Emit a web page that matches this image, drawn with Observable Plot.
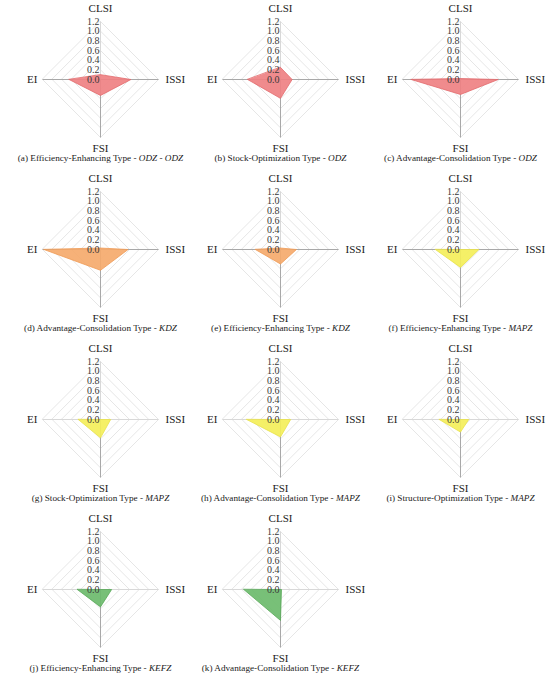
<!DOCTYPE html>
<html>
<head>
<meta charset="utf-8">
<script src="https://cdn.jsdelivr.net/npm/d3@7"></script>
<script src="https://cdn.jsdelivr.net/npm/@observablehq/plot@0.6"></script>
<style>
  html, body { margin: 0; padding: 0; background: #fff; }
  #chart { width: 550px; height: 692px; }
  #chart svg, #chart svg text { font-family: "Liberation Serif", "DejaVu Serif", serif !important; }
</style>
</head>
<body>
<div id="chart"></div>
<script>
// ---- Data ----
const axisNames = ["CLSI", "ISSI", "FSI", "EI"];
const panelLetters = ["a", "b", "c", "d", "e", "f", "g", "h", "i", "j", "k"];
const panelTypes = [
  "Efficiency-Enhancing Type", "Stock-Optimization Type", "Advantage-Consolidation Type",
  "Advantage-Consolidation Type", "Efficiency-Enhancing Type", "Efficiency-Enhancing Type",
  "Stock-Optimization Type", "Advantage-Consolidation Type", "Structure-Optimization Type",
  "Efficiency-Enhancing Type", "Advantage-Consolidation Type"
];
const panelZones = ["ODZ - ODZ", "ODZ", "ODZ", "KDZ", "KDZ", "MAPZ", "MAPZ", "MAPZ", "MAPZ", "KEFZ", "KEFZ"];
const CLSI = [0.10, 0.25, 0.02, 0.03, 0.03, 0.00, 0.00, 0.00, 0.00, 0.00, 0.00];
const ISSI = [0.63, 0.24, 0.78, 0.57, 0.33, 0.38, 0.21, 0.21, 0.17, 0.23, 0.02];
const FSI  = [0.33, 0.39, 0.31, 0.43, 0.30, 0.37, 0.38, 0.36, 0.26, 0.36, 0.64];
const EI   = [0.65, 0.68, 1.02, 1.17, 0.52, 0.52, 0.46, 0.70, 0.44, 0.48, 0.76];
const tickValues = [0, 0.2, 0.4, 0.6, 0.8, 1.0, 1.2];
const zoneKeys = ["ODZ", "KDZ", "MAPZ", "KEFZ"];
const zoneFill = ["#ef8183", "#f5aa6c", "#f4ef5a", "#6cbb6c"];
const zoneStroke = ["#e26a6c", "#ef9a55", "#e8e24a", "#58a858"];

// ---- Layout helpers ----
const W = 550, H = 692;
const rMax = 1.2;
const k = 58 / rMax;          // px per data unit
const dirs = [[0, 1], [1, 0], [0, -1], [-1, 0]];
const values = [CLSI, ISSI, FSI, EI];
function center(i) {
  const r = Math.floor(i / 3), c = i % 3;
  return [(100 + 180 * c) / k, -(79 + 170 * r) / k];
}
function zoneIndex(i) {
  return zoneKeys.indexOf(panelZones[i].split(" ")[0]);
}
const panels = d3.range(panelLetters.length);

// grid rings (diamonds)
const gridData = [];
panels.forEach(i => {
  const [cx, cy] = center(i);
  tickValues.filter(t => t > 0).forEach(t => {
    dirs.forEach(([dx, dy]) => gridData.push({ ring: i + "-" + t, x: cx + dx * t, y: cy + dy * t }));
  });
});

// axis spokes
const spokeData = [];
panels.forEach(i => {
  const [cx, cy] = center(i);
  dirs.forEach(([dx, dy], j) => spokeData.push({
    strong: j === 2 || (i < 6 && j !== 0),
    x1: cx, y1: cy, x2: cx + dx * rMax, y2: cy + dy * rMax
  }));
});

// tick labels
const tickData = [];
panels.forEach(i => {
  const [cx, cy] = center(i);
  tickValues.forEach(t => tickData.push({ x: cx, y: cy + t, label: t.toFixed(1) }));
});

// axis name labels
const labelData = [];
panels.forEach(i => {
  const [cx, cy] = center(i);
  labelData.push({ name: axisNames[0], anchor: "middle", x: cx, y: cy + rMax + 13 / k });
  labelData.push({ name: axisNames[1], anchor: "start", x: cx + rMax + 7 / k, y: cy });
  labelData.push({ name: axisNames[2], anchor: "middle", x: cx, y: cy - rMax - 11 / k });
  labelData.push({ name: axisNames[3], anchor: "end", x: cx - rMax - 5 / k, y: cy });
});

// captions
const captionData = panels.map(i => {
  const [cx, cy] = center(i);
  return { x: cx, y: cy - 79 / k, text: `(${panelLetters[i]}) ${panelTypes[i]} - ${panelZones[i]}` };
});

// polygon marks, one per panel
const polyMarks = panels.map(i => {
  const [cx, cy] = center(i);
  const pts = dirs.map(([dx, dy], j) => ({ x: cx + dx * values[j][i], y: cy + dy * values[j][i] }));
  const z = zoneIndex(i);
  return Plot.line(pts, {
    x: "x", y: "y", curve: "linear-closed",
    fill: zoneFill[z], fillOpacity: 0.92, stroke: zoneStroke[z], strokeWidth: 0.8
  });
});

const serif = "Liberation Serif, DejaVu Serif, serif";
const svg = Plot.plot({
  width: W,
  height: H,
  margin: 0,
  x: { domain: [0, W / k], range: [0, W], axis: null },
  y: { domain: [-H / k, 0], range: [H, 0], axis: null },
  style: { fontFamily: serif, background: "#fff", color: "#000" },
  marks: [
    Plot.line(gridData, { x: "x", y: "y", z: "ring", curve: "linear-closed", stroke: "#e3e3e3", strokeWidth: 0.9 }),
    Plot.link(spokeData.filter(d => !d.strong), { x1: "x1", y1: "y1", x2: "x2", y2: "y2", stroke: "#d8d8d8", strokeWidth: 1 }),
    Plot.link(spokeData.filter(d => d.strong), { x1: "x1", y1: "y1", x2: "x2", y2: "y2", stroke: "#a8a8a8", strokeWidth: 1 }),
    ...polyMarks,
    Plot.text(tickData, { x: "x", y: "y", text: "label", textAnchor: "end", dx: -1, fontSize: 10, fill: "#3a3a3a" }),
    Plot.text(labelData.filter(d => d.anchor === "middle"), { x: "x", y: "y", text: "name", textAnchor: "middle", fontSize: 11, fill: "#1a1a1a" }),
    Plot.text(labelData.filter(d => d.anchor === "start"), { x: "x", y: "y", text: "name", textAnchor: "start", fontSize: 11, fill: "#1a1a1a" }),
    Plot.text(labelData.filter(d => d.anchor === "end"), { x: "x", y: "y", text: "name", textAnchor: "end", fontSize: 11, fill: "#1a1a1a" }),
    Plot.text(captionData, { x: "x", y: "y", text: "text", textAnchor: "middle", fontSize: 9.2, fill: "#1a1a1a" })
  ]
});

svg.setAttribute("font-family", serif);
const captionTexts = new Set(captionData.map(d => d.text));
d3.select(svg).selectAll("text").each(function () {
  this.setAttribute("font-family", serif);
  const t = this.textContent;
  if (!captionTexts.has(t)) return;
  const idx = t.indexOf(" - ");
  const a = t.slice(0, idx + 3), b = t.slice(idx + 3);
  const s = d3.select(this);
  s.text(null);
  s.append("tspan").text(a);
  s.append("tspan").attr("font-style", "italic").text(b);
});

document.getElementById("chart").appendChild(svg);
</script>
</body>
</html>
